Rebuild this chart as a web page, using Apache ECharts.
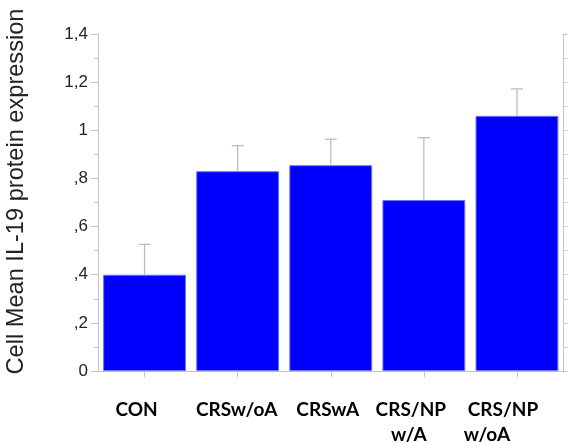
<!DOCTYPE html>
<html>
<head>
<meta charset="utf-8">
<script src="https://cdn.jsdelivr.net/npm/echarts@6/dist/echarts.min.js"></script>
<style>
  html, body { margin: 0; padding: 0; background: #ffffff; overflow: hidden; }
  #chart { width: 568px; height: 443px; }
</style>
</head>
<body>
<div id="chart"></div>
<script>
// ---- data ----
const categories = ['CON', 'CRSw/oA', 'CRSwA', 'CRS/NP\nw/A', 'CRS/NP\nw/oA'];
const meanValues = [0.40, 0.83, 0.855, 0.71, 1.06];
const errorUpper = [0.526, 0.936, 0.963, 0.969, 1.172];
const yTickValues = [0, 0.2, 0.4, 0.6, 0.8, 1.0, 1.2, 1.4];
const yTickLabels = ['0', ',2', ',4', ',6', ',8', '1', '1,2', '1,4'];
const yAxisTitle = 'Cell Mean IL-19 protein expression';

// ---- layout (label nudges to the left, px, per line) ----
const labelNudge = [[8], [1], [3], [13, 15], [14, 30]];

// ---- chart ----
const chart = echarts.init(document.getElementById('chart'), null, { renderer: 'canvas' });
const axisGrey = '#c4c4c4';

const errData = categories.map((c, i) => [i, meanValues[i], errorUpper[i]]);

function yLabelFmt(value) {
  const idx = yTickValues.findIndex(v => Math.abs(v - value) < 1e-6);
  return idx >= 0 ? yTickLabels[idx] : '';
}

const richStyles = {};
categories.forEach((c, i) => {
  c.split('\n').forEach((line, j) => {
    richStyles['c' + i + 'l' + j] = {
      color: '#000000',
      fontFamily: 'Lato',
      fontWeight: 'bold',
      fontSize: 19,
      lineHeight: 25,
      padding: [0, 2 * (labelNudge[i][j] || 0), 0, 0]
    };
  });
});

function xLabelFmt(value, index) {
  return value.split('\n').map((line, j) => '{c' + index + 'l' + j + '|' + line + '}').join('\n');
}

const option = {
  animation: false,
  backgroundColor: '#ffffff',
  grid: { left: 98, right: 4.5, top: 34, bottom: 72, containLabel: false, outerBoundsMode: 'none' },
  xAxis: [
    {
      type: 'category',
      data: categories,
      position: 'bottom',
      axisLine: { show: true, lineStyle: { color: axisGrey, width: 1 } },
      axisTick: { show: true, alignWithLabel: true, length: 6, lineStyle: { color: axisGrey } },
      axisLabel: {
        show: true,
        interval: 0,
        margin: 26,
        color: '#000000',
        fontFamily: 'Lato',
        fontWeight: 'bold',
        fontSize: 19,
        lineHeight: 25,
        formatter: xLabelFmt,
        rich: richStyles
      },
      splitLine: { show: false }
    },
    {
      type: 'category',
      data: categories,
      position: 'top',
      axisLine: { show: true, lineStyle: { color: axisGrey, width: 1 } },
      axisTick: { show: true, alignWithLabel: true, length: 4, lineStyle: { color: axisGrey } },
      axisLabel: { show: false },
      splitLine: { show: false }
    }
  ],
  yAxis: [
    {
      type: 'value',
      min: 0,
      max: 1.4,
      interval: 0.2,
      position: 'left',
      axisLine: { show: true, lineStyle: { color: axisGrey, width: 1 } },
      axisTick: { show: true, length: 7, lineStyle: { color: axisGrey } },
      minorTick: { show: true, splitNumber: 2, length: 4, lineStyle: { color: axisGrey } },
      axisLabel: {
        show: true,
        margin: 10,
        color: '#222222',
        fontFamily: 'Liberation Sans',
        fontSize: 17,
        formatter: yLabelFmt
      },
      splitLine: { show: false }
    },
    {
      type: 'value',
      min: 0,
      max: 1.4,
      interval: 0.1,
      position: 'right',
      axisLine: { show: true, lineStyle: { color: axisGrey, width: 1 } },
      axisTick: { show: true, length: 4, lineStyle: { color: axisGrey } },
      axisLabel: { show: false },
      splitLine: { show: false }
    }
  ],
  graphic: [
    {
      type: 'text',
      x: 16,
      y: 191.5,
      rotation: Math.PI / 2,
      style: {
        text: yAxisTitle,
        x: 0,
        y: 0,
        align: 'center',
        verticalAlign: 'middle',
        fill: '#222222',
        font: '23.6px "Liberation Sans", Arial, sans-serif'
      }
    }
  ],
  series: [
    {
      type: 'bar',
      xAxisIndex: 0,
      yAxisIndex: 0,
      data: meanValues,
      barCategoryGap: '11%',
      itemStyle: { color: '#0000ff', borderColor: '#7070ff', borderWidth: 1 },
      z: 2
    },
    {
      type: 'custom',
      xAxisIndex: 0,
      yAxisIndex: 0,
      data: errData,
      z: 3,
      renderItem: function (params, api) {
        const x = api.value(0);
        const base = api.coord([x, api.value(1)]);
        const top = api.coord([x, api.value(2)]);
        const capHalf = 6;
        const style = { stroke: '#bdbdbd', lineWidth: 1.3, fill: null };
        return {
          type: 'group',
          children: [
            { type: 'line', shape: { x1: base[0], y1: base[1], x2: top[0], y2: top[1] }, style: style },
            { type: 'line', shape: { x1: top[0] - capHalf, y1: top[1], x2: top[0] + capHalf, y2: top[1] }, style: style }
          ]
        };
      }
    }
  ]
};

chart.setOption(option);
</script>
</body>
</html>
